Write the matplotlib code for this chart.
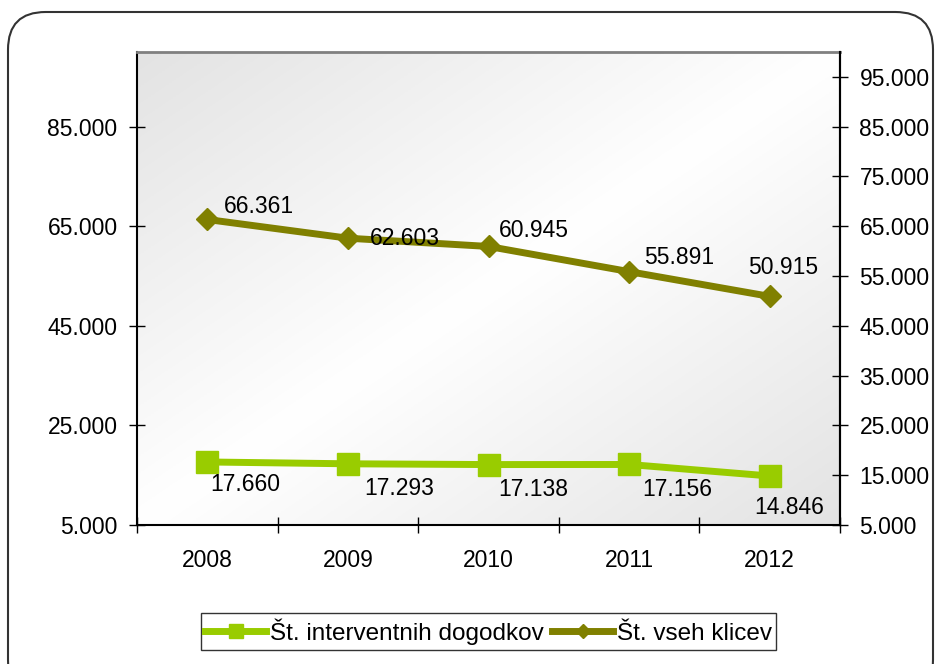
import numpy as np
import matplotlib
matplotlib.use('Agg')
from matplotlib import pyplot as plt
from matplotlib.patches import FancyBboxPatch
from matplotlib.ticker import FuncFormatter

plt.rcParams['font.family'] = ['Liberation Sans', 'DejaVu Sans']

years = ['2008', '2009', '2010', '2011', '2012']
interventions = [17660, 17293, 17138, 17156, 14846]
all_calls = [66361, 62603, 60945, 55891, 50915]

left_ticks = [5000, 25000, 45000, 65000, 85000]
right_ticks = [5000, 15000, 25000, 35000, 45000, 55000, 65000, 75000, 85000, 95000]

# label offsets in points (hand placed like the original)
green_offsets = [(27, -16.5), (37, -18), (32, -18), (35, -18), (14, -23)]
olive_offsets = [(37, 9.5), (41, 0), (33, 11.5), (36, 10), (9.5, 21)]

green = '#99CC00'
olive = '#808000'
fs = 16.5


def fmt(v, pos=None):
    return '{:,.0f}'.format(v).replace(',', '.')


fig = plt.figure(figsize=(9.41, 6.64), dpi=100)

frame = FancyBboxPatch((8 / 941, -0.05), (933 - 8) / 941, (664 - 12) / 664 + 0.05,
                       boxstyle='round,pad=0,rounding_size=0.04',
                       transform=fig.transFigure, facecolor='none',
                       edgecolor='#333333', linewidth=1.5, zorder=5,
                       mutation_aspect=941 / 664)
fig.patches.append(frame)

ax = fig.add_axes([137 / 941, 1 - 525 / 664, (840 - 137) / 941, (525 - 52) / 664])
ax.set_facecolor('none')

# diagonal gradient background
u = np.linspace(0, 1, 200)
vv = np.linspace(0, 1, 200)
U, V = np.meshgrid(u, vv)
d = (U + V) / 2
shade = 1 - 0.11 * np.abs(2 * d - 1)
ax.imshow(np.dstack([shade, shade, shade]), extent=(0, 1, 0, 1),
          transform=ax.transAxes, aspect='auto', zorder=0)

x = np.arange(len(years))
ax.plot(x, interventions, color=green, lw=5, marker='s', ms=16,
        label='Št. interventnih dogodkov', zorder=3)
ax.plot(x, all_calls, color=olive, lw=5, marker='D', ms=11,
        label='Št. vseh klicev', zorder=3)

for i in range(len(years)):
    ax.annotate(fmt(interventions[i]), (x[i], interventions[i]),
                xytext=green_offsets[i], textcoords='offset points',
                ha='center', va='center', fontsize=fs, zorder=4)
    ax.annotate(fmt(all_calls[i]), (x[i], all_calls[i]),
                xytext=olive_offsets[i], textcoords='offset points',
                ha='center', va='center', fontsize=fs, zorder=4)

ax.set_xlim(-0.5, len(years) - 0.5)
ax.set_ylim(5000, 100000)
ax.set_yticks(left_ticks)
ax.yaxis.set_major_formatter(FuncFormatter(fmt))
ax.set_xticks(np.arange(-0.5, len(years), 1.0))
ax.set_xticklabels([])
ax.set_xticks(x, minor=True)
ax.set_xticklabels(years, minor=True)
ax.tick_params(axis='x', which='minor', length=0, pad=17, labelsize=fs)
ax.tick_params(axis='x', which='major', direction='inout', length=12, width=1)
ax.tick_params(axis='y', direction='inout', length=12, width=1, labelsize=fs, pad=8)

for s in ['left', 'bottom', 'right']:
    ax.spines[s].set_color('black')
    ax.spines[s].set_linewidth(1.5)
ax.spines['top'].set_color('#808080')
ax.spines['top'].set_linewidth(2)

ax2 = ax.twinx()
ax2.set_ylim(5000, 100000)
ax2.set_yticks(right_ticks)
ax2.yaxis.set_major_formatter(FuncFormatter(fmt))
ax2.tick_params(axis='y', direction='inout', length=12, width=1, labelsize=fs, pad=8)
for s in ['left', 'bottom', 'top']:
    ax2.spines[s].set_visible(False)
ax2.spines['right'].set_color('black')
ax2.spines['right'].set_linewidth(1.5)

leg = ax.legend(loc='center', bbox_to_anchor=(0.5, -0.225), ncol=2,
                frameon=True, fancybox=False, fontsize=17.5,
                handlelength=2.5, handletextpad=0.15, columnspacing=0.35,
                borderpad=0.2, borderaxespad=0, markerscale=0.65)
leg.get_frame().set_edgecolor('black')
leg.get_frame().set_linewidth(1)

fig.savefig('out.png', dpi=100)
